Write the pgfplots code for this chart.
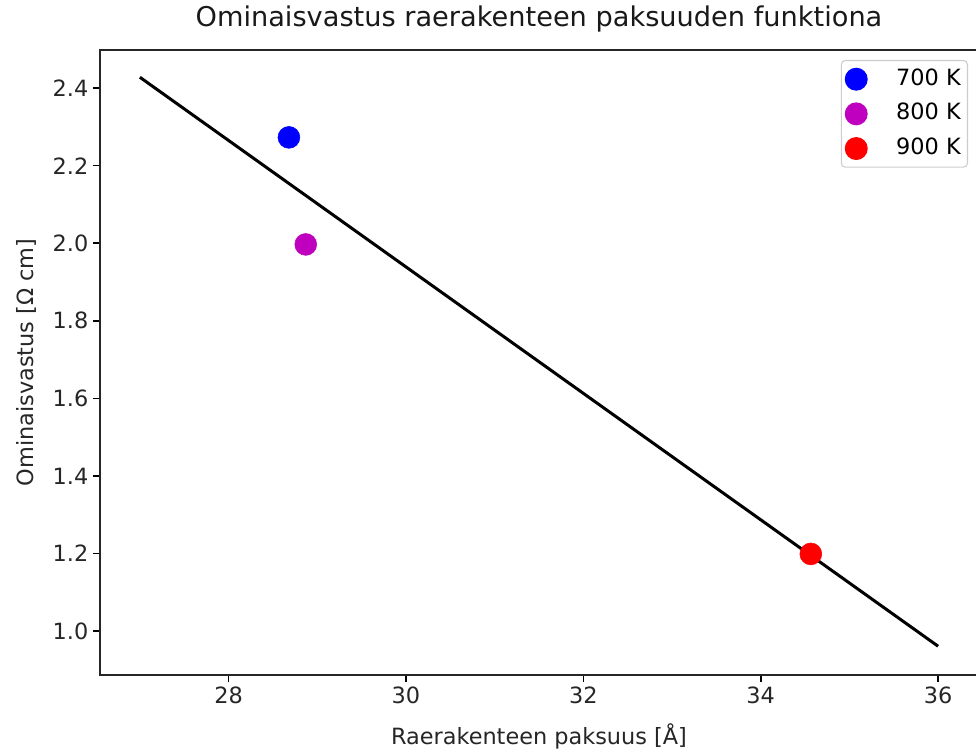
\documentclass[border=0pt]{standalone}
\usepackage{pgfplots}
\pgfplotsset{compat=1.18}
\usepackage{fontspec}
\setmainfont{DejaVu Sans}
\usetikzlibrary{calc}
\definecolor{mplmag}{RGB}{191,0,191}
\begin{document}
\begin{tikzpicture}
\begin{axis}[
  scale only axis,
  width=658.5pt, height=468.75pt,
  xmin=26.55, xmax=36.45,
  ymin=0.8868, ymax=2.4983,
  xtick={28,30,32,34,36},
  ytick={1.0,1.2,1.4,1.6,1.8,2.0,2.2,2.4},
  yticklabel style={/pgf/number format/.cd, fixed, fixed zerofill, precision=1},
  /pgf/number format/assume math mode=true,
  tick align=outside,
  xtick pos=left, ytick pos=left,
  major tick length=5.25pt,
  every tick/.style={black, line width=1.2pt},
  axis line style={line width=1.2pt, black!85},
  ticklabel style={font=\fontsize{16.8}{20}\selectfont, black!85},
  title={Ominaisvastus raerakenteen paksuuden funktiona},
  title style={font=\fontsize{20.4}{24}\selectfont, at={(0.5,1)}, anchor=base, yshift=11.25pt, black!90},
  xlabel={Raerakenteen paksuus [Å]},
  ylabel={Ominaisvastus [Ω cm]},
  xlabel style={font=\fontsize{16.8}{20}\selectfont, at={(0.5,0)}, anchor=base, yshift=-52pt, black!85},
  ylabel style={font=\fontsize{16.8}{20}\selectfont, at={(0,0.5)}, anchor=base, yshift=50pt, black!85},
  legend cell align=left,
  legend style={at={(0.9886,0.984)}, anchor=north east,
    draw=black!20, line width=0.8pt, rounded corners=3pt, fill=white,
    font=\fontsize{16.8}{20}\selectfont,
    row sep=7pt, inner xsep=3pt, inner ysep=4.5pt,
    nodes={inner sep=2pt, text height=12pt, text depth=3pt}},
  legend image code/.code={\path[draw=none, fill=none] (0pt,-8pt) rectangle (35pt,8pt); \draw[#1] plot coordinates {(7pt,0pt)};},
]
\addplot[only marks, mark=*, mark size=8.2pt, color=blue] coordinates {(28.68,2.273)};
\addlegendentry{700 K}
\addplot[only marks, mark=*, mark size=8.2pt, color=mplmag] coordinates {(28.87,1.997)};
\addlegendentry{800 K}
\addplot[only marks, mark=*, mark size=8.2pt, color=red] coordinates {(34.565,1.199)};
\addlegendentry{900 K}
\addplot[black, line width=2.25pt, forget plot] coordinates {(27,2.428) (36,0.961)};
\end{axis}
\pgfresetboundingbox
\path ($(current axis.south west)+(-75pt,-58.5pt)$) rectangle ($(current axis.north east)+(-1.5pt,37.5pt)$);
\end{tikzpicture}
\end{document}
